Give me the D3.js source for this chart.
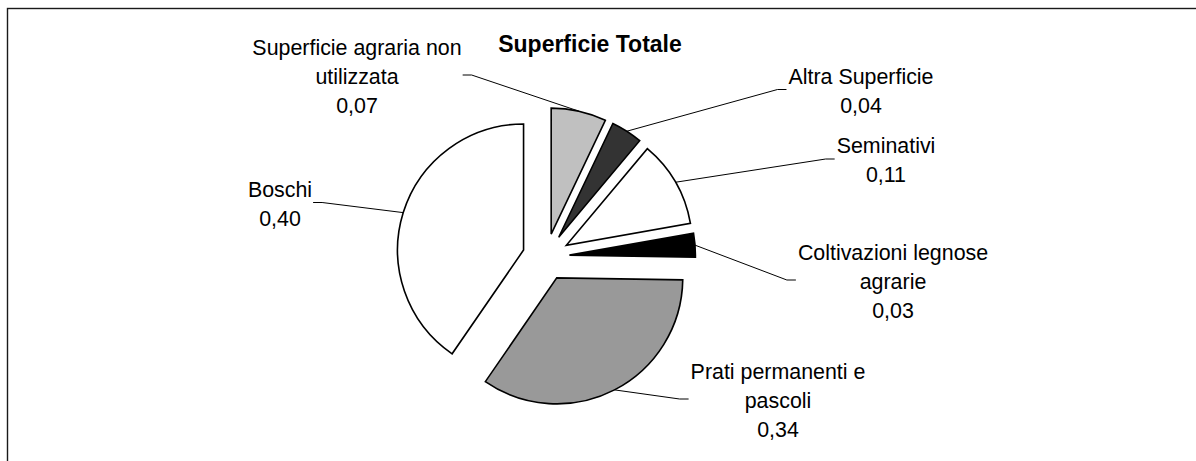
<!DOCTYPE html>
<html>
<head>
<meta charset="utf-8">
<script src="https://cdn.jsdelivr.net/npm/d3@7"></script>
<style>
  html, body { margin: 0; padding: 0; background: #fff; }
  svg { display: block; }
  text { font-family: "Liberation Sans", Arial, sans-serif; fill: #000; }
</style>
</head>
<body>
<svg id="chart" width="1196" height="461"></svg>
<script>
// ---- data ----
const title = "Superficie Totale";
const categories = [
  ["Superficie agraria non", "utilizzata"],
  ["Altra Superficie"],
  ["Seminativi"],
  ["Coltivazioni legnose", "agrarie"],
  ["Prati permanenti e", "pascoli"],
  ["Boschi"]
];
const values = [0.07, 0.04, 0.11, 0.03, 0.34, 0.40];
const colors = ["#c0c0c0", "#333333", "#ffffff", "#000000", "#999999", "#ffffff"];

// ---- layout (label block centres, side of leader stub) ----
const labelCentres = [[357, 76], [861, 90.5], [886, 160], [893, 281], [778, 400], [280, 203.5]];
const stubSide = ["right", "left", "left", "left", "left", "right"];

const W = 1196, H = 461;
const cx = 546, cy = 257, R = 126, explode = 23.5;
const lineH = 29;

const svg = d3.select("#chart");

// frame (only top & left visible)
svg.append("rect")
  .attr("x", 7.5).attr("y", 8.5)
  .attr("width", W + 20).attr("height", H + 20)
  .attr("fill", "none").attr("stroke", "#1a1a1a").attr("stroke-width", 1.4);

// title
svg.append("text")
  .attr("x", 590).attr("y", 52)
  .attr("text-anchor", "middle")
  .attr("font-size", 23).attr("font-weight", "bold")
  .text(title);

const pie = d3.pie().sort(null).value(d => d).startAngle(0).endAngle(2 * Math.PI);
const arcs = pie(values);
const arc = d3.arc().innerRadius(0).outerRadius(R);

const g = svg.append("g").attr("transform", `translate(${cx},${cy})`);

const dirOf = a => {
  const m = (a.startAngle + a.endAngle) / 2;
  return [Math.sin(m), -Math.cos(m)];
};

g.selectAll("path.slice")
  .data(arcs)
  .join("path")
  .attr("class", "slice")
  .attr("transform", d => { const u = dirOf(d); return `translate(${u[0] * explode},${u[1] * explode})`; })
  .attr("d", arc)
  .attr("fill", (d, i) => colors[i])
  .attr("stroke", "#000")
  .attr("stroke-width", 1.6)
  .attr("stroke-linejoin", "miter");

const fmt = v => d3.format(".2f")(v).replace(".", ",");

// labels
const labelG = svg.append("g");
arcs.forEach((a, i) => {
  const lines = categories[i].concat([fmt(values[i])]);
  const [lx, ly] = labelCentres[i];
  const n = lines.length;
  const t = labelG.append("text")
    .attr("text-anchor", "middle")
    .attr("font-size", 21.4);
  lines.forEach((s, k) => {
    const c = ly + (k - (n - 1) / 2) * lineH;
    t.append("tspan").attr("x", lx).attr("y", c + 7.5).text(s);
  });
  const bb = t.node().getBBox();
  // leader
  const u = dirOf(a);
  const px = cx + u[0] * (explode + R), py = cy + u[1] * (explode + R);
  const sy = ly - 1;
  let x0, x1;
  if (stubSide[i] === "right") { x0 = bb.x + bb.width + 1; x1 = x0 + 9; }
  else { x0 = bb.x - 2; x1 = x0 - 9; }
  svg.append("path")
    .attr("d", d3.line()([[x0, sy], [x1, sy], [px, py]]))
    .attr("fill", "none").attr("stroke", "#000").attr("stroke-width", 1);
});
</script>
</body>
</html>
